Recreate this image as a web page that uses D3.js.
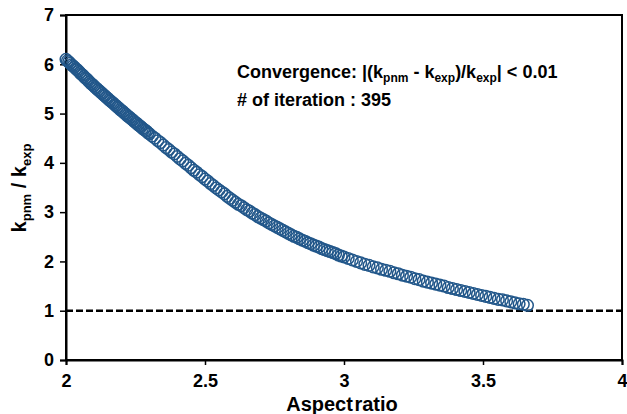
<!DOCTYPE html>
<html>
<head>
<meta charset="utf-8">
<script src="https://cdn.jsdelivr.net/npm/d3@7"></script>
<style>
  body { margin: 0; background: #fff; }
  text { font-family: "Liberation Sans", Arial, sans-serif; font-weight: bold; fill: #000; }
</style>
</head>
<body>
<script>

  // aspect ratio at each iteration
  var aspectRatio = [
    2.000,2.005,2.010,2.015,2.020,2.025,2.030,2.035,2.040,2.045,
    2.050,2.055,2.060,2.065,2.070,2.075,2.080,2.085,2.090,2.095,
    2.100,2.105,2.110,2.115,2.120,2.125,2.130,2.135,2.140,2.145,
    2.150,2.155,2.160,2.165,2.170,2.175,2.180,2.185,2.190,2.195,
    2.200,2.205,2.210,2.215,2.220,2.225,2.230,2.235,2.240,2.245,
    2.250,2.255,2.260,2.265,2.270,2.275,2.280,2.285,2.290,2.295,
    2.300,
    2.31,2.32,2.33,2.34,2.35,2.36,2.37,2.38,2.39,2.40,
    2.41,2.42,2.43,2.44,2.45,2.46,2.47,2.48,2.49,2.50,
    2.51,2.52,2.53,2.54,2.55,2.56,2.57,2.58,2.59,2.60,
    2.61,2.62,2.63,2.64,2.65,2.66,2.67,2.68,2.69,2.70,
    2.71,2.72,2.73,2.74,2.75,2.76,2.77,2.78,2.79,2.80,
    2.81,2.82,2.83,2.84,2.85,2.86,2.87,2.88,2.89,2.90,
    2.91,2.92,2.93,2.94,2.95,2.96,2.97,2.98,2.99,3.00,
    3.015,3.030,3.045,3.060,3.075,3.090,3.105,3.120,3.135,3.150,
    3.165,3.180,3.195,3.210,3.225,3.240,3.255,3.270,3.285,3.300,
    3.315,3.330,3.345,3.360,3.375,3.390,3.405,3.420,3.435,3.450,
    3.465,3.480,3.495,3.510,3.525,3.540,3.555,3.570,3.585,3.600,
    3.615,3.630,3.645,3.660
  ];

  // k_pnm / k_exp at each iteration
  var kRatio = [
    6.10,6.07,6.05,6.02,5.99,5.97,5.94,5.91,5.89,5.86,
    5.83,5.80,5.78,5.75,5.72,5.70,5.67,5.64,5.61,5.59,
    5.56,5.53,5.51,5.48,5.46,5.43,5.41,5.38,5.36,5.33,
    5.31,5.28,5.26,5.23,5.21,5.18,5.16,5.13,5.11,5.08,
    5.06,5.04,5.01,4.99,4.96,4.94,4.92,4.89,4.87,4.84,
    4.82,4.80,4.77,4.75,4.73,4.70,4.68,4.66,4.64,4.61,
    4.59,
    4.54,4.50,4.45,4.41,4.36,4.31,4.27,4.22,4.18,4.13,
    4.08,4.04,3.99,3.95,3.90,3.85,3.81,3.76,3.72,3.67,
    3.63,3.58,3.54,3.49,3.45,3.41,3.37,3.32,3.28,3.24,
    3.20,3.16,3.13,3.09,3.05,3.02,2.98,2.95,2.91,2.88,
    2.85,2.82,2.78,2.75,2.72,2.69,2.66,2.63,2.60,2.57,
    2.54,2.51,2.49,2.46,2.43,2.41,2.38,2.36,2.33,2.31,
    2.29,2.26,2.24,2.22,2.20,2.18,2.16,2.13,2.11,2.09,
    2.06,2.03,2.00,1.97,1.94,1.92,1.89,1.87,1.84,1.82,
    1.80,1.77,1.75,1.72,1.70,1.68,1.65,1.63,1.60,1.58,
    1.56,1.54,1.52,1.50,1.47,1.45,1.43,1.41,1.39,1.37,
    1.35,1.33,1.31,1.29,1.27,1.25,1.23,1.22,1.20,1.18,
    1.16,1.14,1.13,1.11
  ];

  var xTicks = [2, 2.5, 3, 3.5, 4];
  var yTicks = [0, 1, 2, 3, 4, 5, 6, 7];
  var reference = 1;
  var iterations = 395;

  var w = 627, h = 414;
  var margin = {top: 15, right: 5, bottom: 54, left: 66};
  var width = w - margin.left - margin.right,
      height = h - margin.top - margin.bottom;

  var svg = d3.select("body").append("svg")
      .attr("width", w)
      .attr("height", h);

  var g = svg.append("g")
      .attr("transform", "translate(" + margin.left + "," + margin.top + ")");

  var x = d3.scaleLinear().domain([2, 4]).range([0, width]);
  var y = d3.scaleLinear().domain([0, 7]).range([height, 0]);

  // frame
  g.append("rect")
      .attr("width", width)
      .attr("height", height)
      .attr("fill", "none")
      .attr("stroke", "#000")
      .attr("stroke-width", 2);

  // axes
  var xAxis = g.append("g")
      .attr("transform", "translate(0," + height + ")")
      .call(d3.axisBottom(x).tickValues(xTicks).tickSize(5).tickPadding(9)
        .tickFormat(function(d) { return d; }));
  var yAxis = g.append("g")
      .call(d3.axisLeft(y).tickValues(yTicks).tickSize(6).tickPadding(6)
        .tickFormat(function(d) { return d; }));

  [xAxis, yAxis].forEach(function(a) {
    a.select(".domain").attr("stroke-width", 2);
    a.selectAll(".tick line").attr("stroke-width", 1.5);
    a.selectAll(".tick text").attr("font-size", 18).attr("font-weight", "bold")
      .attr("font-family", "Liberation Sans, Arial, sans-serif").attr("fill", "#000");
  });

  // reference line
  g.append("line")
      .attr("x1", 0).attr("x2", width)
      .attr("y1", y(reference)).attr("y2", y(reference))
      .attr("stroke", "#000")
      .attr("stroke-width", 2.5)
      .attr("stroke-dasharray", "7,3");

  // points
  var data = aspectRatio.map(function(a, i) { return {a: a, k: kRatio[i]}; });

  g.selectAll("circle")
      .data(data)
      .enter().append("circle")
      .attr("cx", function(d) { return x(d.a); })
      .attr("cy", function(d) { return y(d.k); })
      .attr("r", 5.8)
      .attr("fill", "none")
      .attr("stroke", "#22578a")
      .attr("stroke-width", 1.5);

  // annotation
  var note = svg.append("text")
      .attr("x", 237).attr("y", 78)
      .attr("font-size", 18);
  note.append("tspan").text("Convergence: |(k");
  note.append("tspan").attr("dy", 4).attr("font-size", 12).text("pnm");
  note.append("tspan").attr("dy", -4).text(" - k");
  note.append("tspan").attr("dy", 4).attr("font-size", 12).text("exp");
  note.append("tspan").attr("dy", -4).text(")/k");
  note.append("tspan").attr("dy", 4).attr("font-size", 12).text("exp");
  note.append("tspan").attr("dy", -4).text("| < 0.01");

  svg.append("text")
      .attr("x", 237).attr("y", 106)
      .attr("font-size", 18)
      .text("# of iteration : " + iterations);

  // axis titles
  svg.append("text")
      .attr("x", 342).attr("y", 411)
      .attr("text-anchor", "middle")
      .attr("font-size", 20)
      .attr("word-spacing", -4)
      .text("Aspect ratio");

  var yl = svg.append("text")
      .attr("transform", "translate(26,188) rotate(-90)")
      .attr("text-anchor", "middle")
      .attr("font-size", 20);
  yl.append("tspan").text("k");
  yl.append("tspan").attr("dy", 5).attr("font-size", 13).text("pnm");
  yl.append("tspan").attr("dy", -5).text(" / k");
  yl.append("tspan").attr("dy", 5).attr("font-size", 13).text("exp");

</script>
</body>
</html>
